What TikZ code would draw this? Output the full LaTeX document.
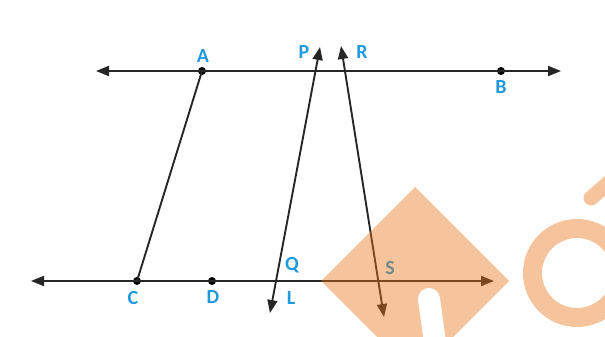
\documentclass[tikz,border=0pt]{standalone}
\usepackage{fontspec}
\setmainfont{Carlito}
\usetikzlibrary{arrows.meta}
\definecolor{lblue}{RGB}{30,155,222}
\definecolor{wmark}{RGB}{233,119,26}
\begin{document}
\begin{tikzpicture}[x=1pt,y=-1pt,
  ln/.style={line width=1.9pt, draw=black!85, {Triangle[length=13pt,width=10pt]}-{Triangle[length=13pt,width=10pt]}},
  pt/.style={circle, fill=black, inner sep=0pt, minimum size=8pt},
  lbl/.style={text=lblue, font=\fontsize{20}{20}\selectfont\bfseries, inner sep=0pt},
  wm/.style={fill=wmark, fill opacity=0.43}]
\useasboundingbox (0,0) rectangle (605,337);
% end points
\coordinate (T1) at (96,71);
\coordinate (T2) at (561,71);
\coordinate (B1) at (31,281);
\coordinate (B2) at (494,281);
\coordinate (Ptip) at (320,47);
\coordinate (Ltip) at (270,313);
\coordinate (Rtip) at (341,46);
\coordinate (Stip) at (384,317);
% points
\node[pt] (A) at (202,71) {};
\node[pt] (B) at (501,71) {};
\node[pt] (C) at (137,281) {};
\node[pt] (D) at (212,281) {};
% lines
\draw[ln] (T1) -- (T2);
\draw[ln] (B1) -- (B2);
\draw[ln] (Ptip) -- (Ltip);
\draw[ln] (Rtip) -- (Stip);
\draw[line width=1.9pt, draw=black!85] (A.center) -- (C.center);
% labels
\node[lbl] (lA) at (203,56) {A};
\node[lbl] (lB) at (501,87) {B};
\node[lbl] (lC) at (133,298) {C};
\node[lbl] (lD) at (213,297) {D};
\node[lbl] (lP) at (304,52) {P};
\node[lbl] (lR) at (362,52) {R};
\node[lbl] (lQ) at (292,265) {Q};
\node[lbl] (lL) at (291,298) {L};
\node[lbl] (lS) at (390,268) {S};
% watermark
\begin{scope}
\clip (0,0) rectangle (605,337);
\fill[wm] (321,281) -- (415,187) -- (509,281) -- (415,375) -- cycle;
\draw[white, line width=22pt, line cap=round] (429,299) -- (436,350);
\fill[wm, even odd rule] (577,273) circle (54) (577,273) circle (35);
\draw[wmark, draw opacity=0.43, line width=15pt, line cap=round] (591,198) -- (620,173);
\end{scope}
\end{tikzpicture}
\end{document}
